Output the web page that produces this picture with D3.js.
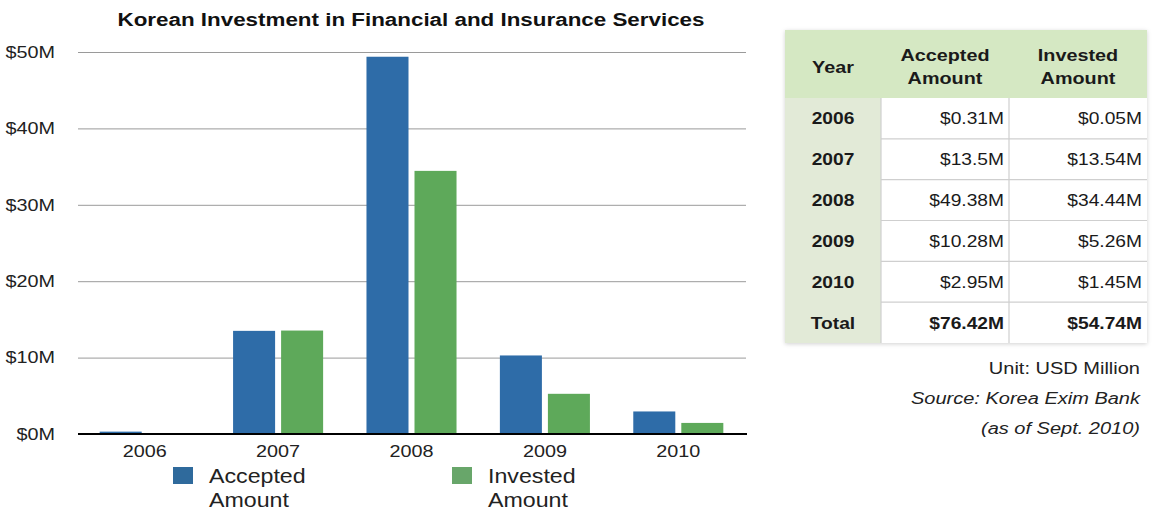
<!DOCTYPE html>
<html>
<head>
<meta charset="utf-8">
<script src="https://cdn.jsdelivr.net/npm/d3@7"></script>
<style>
  html, body { margin: 0; padding: 0; background: #ffffff; }
  svg { display: block; font-family: "Liberation Sans", Arial, Helvetica, sans-serif; }
</style>
</head>
<body>
<svg id="chart" width="1156" height="511"></svg>
<script>
// Korean investment in financial and insurance services, USD millions
const years = ["2006", "2007", "2008", "2009", "2010"];
const acceptedAmount = [0.31, 13.5, 49.38, 10.28, 2.95];
const investedAmount = [0.05, 13.54, 34.44, 5.26, 1.45];
const seriesNames = ["Accepted Amount", "Invested Amount"];
const yTicks = [0, 10, 20, 30, 40, 50];
const notes = ["Unit: USD Million", "Source: Korea Exim Bank", "(as of Sept. 2010)"];

const colors = { "Accepted Amount": "#2e6ca8", "Invested Amount": "#5ea95a" };
const legendColors = { "Accepted Amount": "#2f6a9c", "Invested Amount": "#68a66a" };

const svg = d3.select("#chart");

// Helvetica-style wide lettering: widen glyphs horizontally around the anchor point
function widen(sel, sx) {
  sel.each(function () {
    const x = +this.getAttribute("x") || 0;
    const y = +this.getAttribute("y") || 0;
    this.setAttribute("x", 0);
    this.setAttribute("y", 0);
    this.setAttribute("transform", `translate(${x},${y}) scale(${sx},1)`);
  });
  return sel;
}

// ---------- bar chart ----------
const plotLeft = 78, plotRight = 746, plotTop = 52, plotBottom = 434;

const y = d3.scaleLinear().domain([0, 50]).range([plotBottom, plotTop]);
const x0 = d3.scaleBand().domain(years).range([plotLeft, plotRight - 1])
  .paddingInner(0.325).paddingOuter(0.1625);
const x1 = d3.scaleBand().domain(seriesNames).range([0, x0.bandwidth()])
  .paddingInner(0.125);

widen(svg.append("text")
  .attr("x", 411).attr("y", 26)
  .attr("text-anchor", "middle")
  .attr("font-weight", "bold")
  .attr("font-size", 17.5)
  .attr("fill", "#111")
  .text("Korean Investment in Financial and Insurance Services"), 1.28);

// gridlines + tick labels
const yAxis = d3.axisLeft(y).tickValues(yTicks)
  .tickSize(-(plotRight - plotLeft)).tickPadding(23)
  .tickFormat(d => "$" + d + "M");
const gy = svg.append("g").attr("transform", `translate(${plotLeft},0)`).call(yAxis);
gy.select(".domain").remove();
gy.selectAll(".tick line").attr("stroke", "#9a9a9a").attr("stroke-width", 1);
widen(gy.selectAll(".tick text").attr("font-size", 16.5).attr("fill", "#222")
  .attr("font-family", "'Liberation Sans', Arial, sans-serif"), 1.2);

// bars
const rows = years.map((yr, i) => ({
  year: yr,
  values: [
    { key: seriesNames[0], value: acceptedAmount[i] },
    { key: seriesNames[1], value: investedAmount[i] }
  ]
}));

svg.append("g").selectAll("g").data(rows).join("g")
  .attr("transform", d => `translate(${x0(d.year)},0)`)
  .selectAll("rect").data(d => d.values).join("rect")
  .attr("x", d => x1(d.key))
  .attr("width", x1.bandwidth())
  .attr("y", d => y(d.value))
  .attr("height", d => y(0) - y(d.value))
  .attr("fill", d => colors[d.key]);

// baseline + category labels
const xAxis = d3.axisBottom(x0).tickSize(0).tickPadding(11);
const gx = svg.append("g").attr("transform", `translate(0,${plotBottom})`).call(xAxis);
gx.select(".domain").remove();
gx.selectAll(".tick text").attr("font-size", 16.5).attr("fill", "#222")
  .attr("font-family", "'Liberation Sans', Arial, sans-serif")
  .attr("dy", null).attr("y", 23);
widen(gx.selectAll(".tick text"), 1.2);
svg.append("line")
  .attr("x1", plotLeft).attr("x2", plotRight + 1)
  .attr("y1", plotBottom).attr("y2", plotBottom)
  .attr("stroke", "#000").attr("stroke-width", 2);

// legend
const legendX = [173, 452];
seriesNames.forEach((name, i) => {
  const g = svg.append("g").attr("transform", `translate(${legendX[i]},467)`);
  g.append("rect").attr("width", 20).attr("height", 17).attr("fill", legendColors[name]);
  name.split(" ").forEach((word, j) => {
    widen(g.append("text")
      .attr("x", 36).attr("y", 16 + j * 24)
      .attr("font-size", 20).attr("fill", "#222")
      .text(word), 1.16);
  });
});

// ---------- data table ----------
const tX = [785, 881, 1009, 1147];
const headerTop = 30, headerBottom = 98, tableBottom = 343;
const rowCount = years.length + 1;
const rowH = (tableBottom - headerBottom) / rowCount;

const fmtM = v => "$" + (+v.toFixed(2)) + "M";
const tableRows = years.map((yr, i) => [yr, fmtM(acceptedAmount[i]), fmtM(investedAmount[i])]);
tableRows.push(["Total", "$" + d3.sum(acceptedAmount).toFixed(2) + "M",
  "$" + d3.sum(investedAmount).toFixed(2) + "M"]);

const defs = svg.append("defs");
const shadow = defs.append("filter").attr("id", "tblShadow")
  .attr("x", "-5%").attr("y", "-5%").attr("width", "110%").attr("height", "110%");
shadow.append("feDropShadow").attr("dx", 0).attr("dy", 1).attr("stdDeviation", 2)
  .attr("flood-color", "#000").attr("flood-opacity", 0.18);

const tbl = svg.append("g");
tbl.append("rect")
  .attr("x", tX[0]).attr("y", headerTop)
  .attr("width", tX[3] - tX[0]).attr("height", tableBottom - headerTop)
  .attr("fill", "#ffffff").attr("filter", "url(#tblShadow)");
tbl.append("rect")
  .attr("x", tX[0]).attr("y", headerTop)
  .attr("width", tX[3] - tX[0]).attr("height", headerBottom - headerTop)
  .attr("fill", "#d5e8c3");
tbl.append("rect")
  .attr("x", tX[0]).attr("y", headerBottom)
  .attr("width", tX[1] - tX[0]).attr("height", tableBottom - headerBottom)
  .attr("fill", "#e2ead7");

// grid lines of the table body
tbl.selectAll("line.h").data(d3.range(1, rowCount)).join("line")
  .attr("x1", tX[1]).attr("x2", tX[3])
  .attr("y1", i => headerBottom + i * rowH).attr("y2", i => headerBottom + i * rowH)
  .attr("stroke", "#cfcfcf").attr("stroke-width", 1.2);
tbl.selectAll("line.v").data([tX[1], tX[2]]).join("line")
  .attr("x1", d => d).attr("x2", d => d)
  .attr("y1", headerBottom).attr("y2", tableBottom)
  .attr("stroke", "#cfcfcf").attr("stroke-width", 1.2);

// headers
const headers = [["Year"], ["Accepted", "Amount"], ["Invested", "Amount"]];
headers.forEach((lines, c) => {
  const cx = (tX[c] + tX[c + 1]) / 2;
  const startY = lines.length === 1 ? 73 : 61;
  lines.forEach((line, j) => {
    widen(tbl.append("text")
      .attr("x", cx).attr("y", startY + j * 23)
      .attr("text-anchor", "middle").attr("font-weight", "bold")
      .attr("font-size", 16.5).attr("fill", "#1a1a1a").text(line), 1.2);
  });
});

// body cells
tableRows.forEach((r, ri) => {
  const cy = headerBottom + ri * rowH + rowH / 2 + 6;
  const bold = ri === tableRows.length - 1;
  widen(tbl.append("text")
    .attr("x", (tX[0] + tX[1]) / 2).attr("y", cy)
    .attr("text-anchor", "middle").attr("font-weight", "bold")
    .attr("font-size", 16).attr("fill", "#1a1a1a").text(r[0]), 1.2);
  [1, 2].forEach(c => {
    widen(tbl.append("text")
      .attr("x", tX[c + 1] - 5).attr("y", cy)
      .attr("text-anchor", "end")
      .attr("font-weight", bold ? "bold" : "normal")
      .attr("font-size", 16).attr("fill", "#1a1a1a").text(r[c]), 1.2);
  });
});

// notes under the table
notes.forEach((note, i) => {
  widen(svg.append("text")
    .attr("x", 1140).attr("y", 374 + i * 30)
    .attr("text-anchor", "end")
    .attr("font-size", 16).attr("fill", "#222")
    .attr("font-style", i === 0 ? "normal" : "italic")
    .text(note), 1.25);
});
</script>
</body>
</html>
